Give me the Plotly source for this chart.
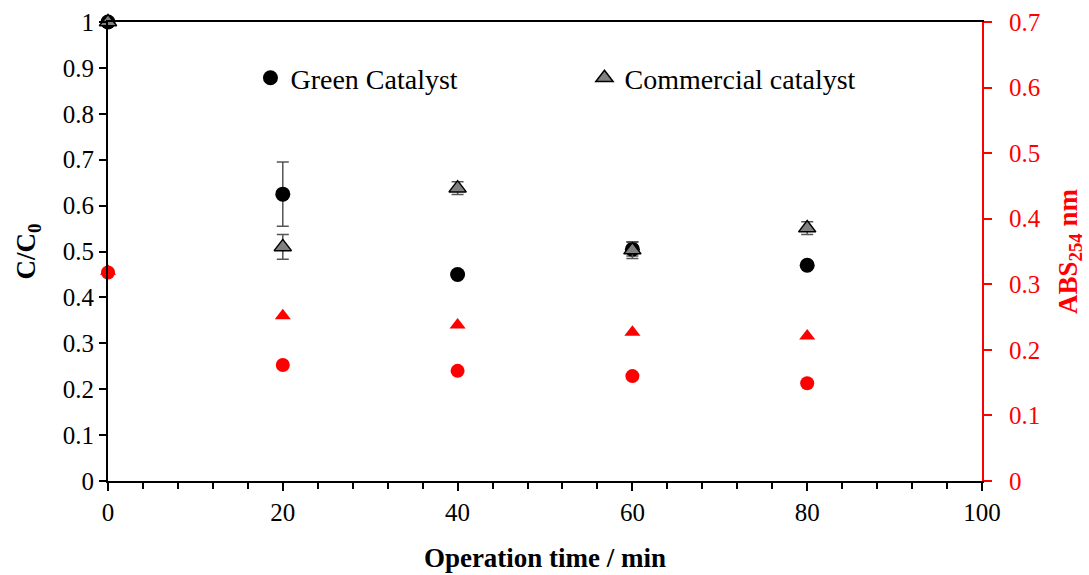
import plotly.graph_objects as go

time_min = [0, 20, 40, 60, 80]
green_cc0 = [1.0, 0.625, 0.45, 0.505, 0.47]
green_err = [0.0, 0.07, 0.0, 0.015, 0.0]
comm_cc0 = [1.0, 0.51, 0.638, 0.503, 0.551]
comm_err = [0.0, 0.027, 0.014, 0.018, 0.014]
green_abs = [0.318, 0.177, 0.168, 0.160, 0.149]
comm_abs = [0.320, 0.252, 0.238, 0.227, 0.221]

FONT = "Liberation Serif, Times New Roman, serif"
RED = "#ff0000"

fig = go.Figure()
fig.add_trace(go.Scatter(
    x=time_min, y=green_cc0, mode="markers", name="Green Catalyst",
    marker=dict(symbol="circle", size=15, color="black"),
    error_y=dict(type="data", array=green_err, color="#555555", thickness=1.5, width=6),
    cliponaxis=False))
fig.add_trace(go.Scatter(
    x=time_min, y=comm_cc0, mode="markers", name="Commercial catalyst",
    marker=dict(symbol="triangle-up", size=15, color="#808080",
                line=dict(color="black", width=1.5)),
    error_y=dict(type="data", array=comm_err, color="#555555", thickness=1.5, width=6),
    cliponaxis=False))
fig.add_trace(go.Scatter(
    x=time_min, y=comm_abs, mode="markers", yaxis="y2", showlegend=False,
    marker=dict(symbol="triangle-up", size=14, color=RED), cliponaxis=False))
fig.add_trace(go.Scatter(
    x=time_min, y=green_abs, mode="markers", yaxis="y2", showlegend=False,
    marker=dict(symbol="circle", size=14, color=RED), cliponaxis=False))

fig.update_layout(
    width=1089, height=575,
    margin=dict(l=108, r=107, t=22, b=94),
    paper_bgcolor="white", plot_bgcolor="white",
    font=dict(family=FONT, size=24, color="black"),
    showlegend=True,
    legend=dict(orientation="h", x=0.163, y=0.878, xanchor="left", yanchor="middle",
                font=dict(family=FONT, size=28), bgcolor="rgba(0,0,0,0)",
                entrywidth=289, entrywidthmode="pixels", itemwidth=30),
    xaxis=dict(range=[0, 100], dtick=20, showgrid=False, zeroline=False, automargin=False,
               showline=True, linecolor="black", linewidth=2, mirror=True,
               ticks="outside", ticklen=8, tickwidth=2, tickcolor="black",
               minor=dict(dtick=4, ticks="outside", ticklen=6, tickwidth=1.5, tickcolor="black"),
               title=dict(text="<b>Operation time / min</b>", font=dict(family=FONT, size=27), standoff=23),
               tickfont=dict(family=FONT, size=25)),
    yaxis=dict(range=[0, 1], dtick=0.1, showgrid=False, zeroline=False, automargin=False,
               showline=True, linecolor="black", linewidth=2,
               ticks="outside", ticklen=7, tickwidth=2, tickcolor="black",
               tickformat="~g",
               title=dict(text="<b>C/C<sub>0</sub></b>", font=dict(family=FONT, size=27), standoff=19),
               tickfont=dict(family=FONT, size=25)),
    yaxis2=dict(range=[0, 0.7], dtick=0.1, overlaying="y", side="right", automargin=False,
                showgrid=False, zeroline=False,
                showline=True, linecolor=RED, linewidth=2,
                ticks="outside", ticklen=8, tickwidth=2, tickcolor=RED,
                tickformat="~g", ticklabelstandoff=12,
                title=dict(text="<b>ABS<sub>254</sub> nm</b>", font=dict(family=FONT, size=27, color=RED), standoff=18),
                tickfont=dict(family=FONT, size=25, color=RED)),
)

fig.write_html("out.html")
